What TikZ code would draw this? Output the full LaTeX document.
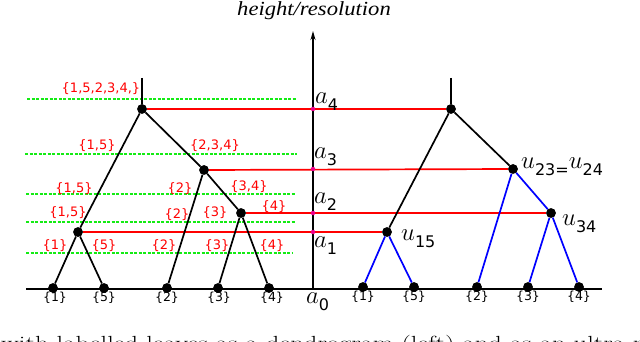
\documentclass[tikz,border=0pt]{standalone}
\usepackage{fontspec}
\usetikzlibrary{arrows.meta}
\newfontfamily\dv{DejaVu Sans}
\newfontfamily\tms{Liberation Serif}
\newcommand{\mylab}[2]{{\fontsize{24.88}{25}\selectfont$#1$}\raisebox{-7pt}{\dv\fontsize{16}{16}\selectfont #2}}
\definecolor{lime}{RGB}{20,235,20}
\tikzset{
  dot/.style={circle,fill=black,inner sep=0pt,minimum size=9.5pt},
  mdot/.style={circle,fill=magenta,inner sep=0pt,minimum size=4.5pt},
  edge/.style={line width=1.7pt,black},
  bedge/.style={line width=1.7pt,blue},
  redline/.style={line width=1.7pt,red},
  gline/.style={line width=1.3pt,lime,dash pattern=on 3pt off 1.5pt},
  setlbl/.style={text=red,font=\dv\fontsize{13}{13}\selectfont,inner sep=0pt},
  leaflbl/.style={text=black,font=\dv\fontsize{12.5}{13}\selectfont,inner sep=0pt},
  axlbl/.style={anchor=base west,inner sep=0pt}
}
\begin{document}
\begin{tikzpicture}[x=1pt,y=-1pt]
\clip (0,0) rectangle (640,342);
% title
\node (title) at (314,11) {\scalebox{1.13}[1]{\tms\itshape\fontsize{20}{20}\selectfont height/resolution}};
% green dashed lines
\coordinate (g1a) at (27,99);  \coordinate (g1b) at (297,99);
\coordinate (g2a) at (25,154); \coordinate (g2b) at (297,154);
\coordinate (g3a) at (26,194); \coordinate (g3b) at (296,194);
\coordinate (g4a) at (26,222); \coordinate (g4b) at (296,222);
\coordinate (g5a) at (26,253); \coordinate (g5b) at (292,253);
\foreach \i in {1,...,5} { \draw[gline] (g\i a) -- (g\i b); }
% axis and baseline
\coordinate (A0) at (313,290);
\coordinate (Atop) at (313,31);
\coordinate (BL) at (26,289);
\coordinate (BR) at (602,289);
\draw[line width=1.5pt] (BL) -- (BR);
\draw[line width=1.3pt,-{Stealth[length=9pt,width=5pt]}] (A0) -- (Atop);
% left tree nodes
\node[dot] (L1) at (53,288) {};
\node[dot] (L5) at (104,288) {};
\node[dot] (L2) at (167,288) {};
\node[dot] (L3) at (218,288) {};
\node[dot] (L4) at (269,288) {};
\node[dot] (Lu15) at (78,232) {};
\node[dot] (Lu34) at (241,213) {};
\node[dot] (Lu234) at (204,170) {};
\node[dot] (Lroot) at (142,109) {};
\coordinate (Ltop) at (142,78);
% right tree nodes
\node[dot] (R1) at (363,287) {};
\node[dot] (R5) at (414,287) {};
\node[dot] (R2) at (477,287) {};
\node[dot] (R3) at (528,287) {};
\node[dot] (R4) at (579,287) {};
\node[dot] (Ru15) at (387,232) {};
\node[dot] (Ru34) at (551,213) {};
\node[dot] (Ru23) at (513,169) {};
\node[dot] (Rroot) at (451,109) {};
\coordinate (Rtop) at (451,78);
% red level lines
\draw[redline] (Lroot) -- (Rroot);
\draw[redline] (Lu234) -- (Ru23);
\draw[redline] (Lu34) -- (Ru34);
\draw[redline] (Lu15) -- (Ru15);
% magenta dots on axis
\node[mdot] (A4) at (313,109) {};
\node[mdot] (A3) at (313,169) {};
\node[mdot] (A2) at (313,213) {};
\node[mdot] (A1) at (313,232) {};
% left edges
\draw[edge] (Ltop) -- (Lroot);
\draw[edge] (Lroot) -- (Lu15);
\draw[edge] (Lroot) -- (Lu234);
\draw[edge] (Lu15) -- (L1);
\draw[edge] (Lu15) -- (L5);
\draw[edge] (Lu234) -- (L2);
\draw[edge] (Lu234) -- (Lu34);
\draw[edge] (Lu34) -- (L3);
\draw[edge] (Lu34) -- (L4);
% right edges
\draw[edge] (Rtop) -- (Rroot);
\draw[edge] (Rroot) -- (Ru15);
\draw[edge] (Rroot) -- (Ru23);
\draw[bedge] (Ru15) -- (R1);
\draw[bedge] (Ru15) -- (R5);
\draw[bedge] (Ru23) -- (R2);
\draw[bedge] (Ru23) -- (Ru34);
\draw[bedge] (Ru34) -- (R3);
\draw[bedge] (Ru34) -- (R4);
% redraw dots on top
\foreach \n in {L1,L5,L2,L3,L4,Lu15,Lu34,Lu234,Lroot,R1,R5,R2,R3,R4,Ru15,Ru34,Ru23,Rroot} { \fill (\n) circle (4.75pt); }
% set labels
\node[setlbl] (s1) at (101,89) {\{1,5,2,3,4,\}};
\node[setlbl] (s2) at (97,146) {\{1,5\}};
\node[setlbl] (s3) at (215,146) {\{2,3,4\}};
\node[setlbl] (s4) at (74,189) {\{1,5\}};
\node[setlbl] (s5) at (180,189) {\{2\}};
\node[setlbl] (s6) at (249,187) {\{3,4\}};
\node[setlbl] (s7) at (68,213) {\{1,5\}};
\node[setlbl] (s8) at (177,215) {\{2\}};
\node[setlbl] (s9) at (215,213) {\{3\}};
\node[setlbl] (s10) at (274,207) {\{4\}};
\node[setlbl] (s11) at (55,246) {\{1\}};
\node[setlbl] (s12) at (104,246) {\{5\}};
\node[setlbl] (s13) at (164,246) {\{2\}};
\node[setlbl] (s14) at (217,246) {\{3\}};
\node[setlbl] (s15) at (272,246) {\{4\}};
% leaf labels
\node[leaflbl] (l1) at (55,298) {\{1\}};
\node[leaflbl] (l5) at (104,298) {\{5\}};
\node[leaflbl] (l2) at (167,298) {\{2\}};
\node[leaflbl] (l3) at (219,298) {\{3\}};
\node[leaflbl] (l4) at (272,298) {\{4\}};
\node[leaflbl] (r1) at (363,297) {\{1\}};
\node[leaflbl] (r5) at (414,297) {\{5\}};
\node[leaflbl] (r2) at (477,297) {\{2\}};
\node[leaflbl] (r3) at (528,297) {\{3\}};
\node[leaflbl] (r4) at (579,297) {\{4\}};
% axis labels
\node[axlbl] (a4) at (315,104) {\mylab{a}{4}};
\node[axlbl] (a3) at (314,158) {\mylab{a}{3}};
\node[axlbl] (a2) at (314,203) {\mylab{a}{2}};
\node[axlbl] (a1) at (314,247) {\mylab{a}{1}};
\node[axlbl] (a0) at (306,303) {\mylab{a}{0}};
% node labels
\node[axlbl] (u15) at (401,240) {\mylab{u}{15}};
\node[axlbl] (u23) at (521,168) {\mylab{u}{23=}\mylab{u}{24}};
\node[axlbl] (u34) at (562,225) {\mylab{u}{34}};
% cut caption
\node[anchor=base west,inner sep=0pt] (cap) at (1,349) {\scalebox{1.4}[1]{\fontsize{19}{19}\selectfont with labelled leaves as a dendrogram (left) and as an ultra-m}};
\end{tikzpicture}
\end{document}
